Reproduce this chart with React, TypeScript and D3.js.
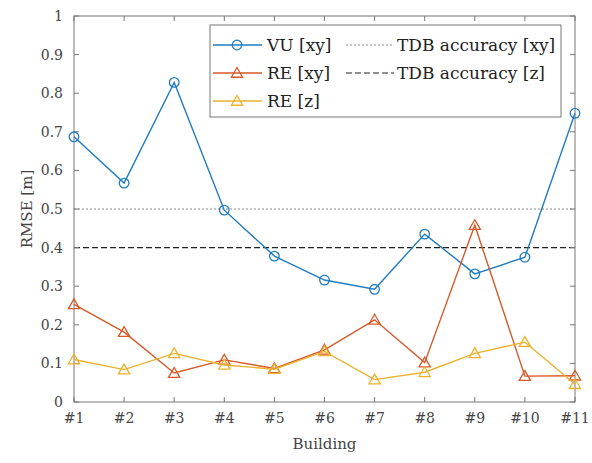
import React from "react"
import * as d3 from "d3"

const buildings = ["#1", "#2", "#3", "#4", "#5", "#6", "#7", "#8", "#9", "#10", "#11"]
const vuXy = [0.687, 0.567, 0.828, 0.497, 0.378, 0.316, 0.292, 0.435, 0.332, 0.375, 0.748]
const reXy = [0.253, 0.181, 0.075, 0.109, 0.087, 0.135, 0.213, 0.102, 0.458, 0.067, 0.068]
const reZ = [0.11, 0.084, 0.126, 0.096, 0.085, 0.131, 0.058, 0.077, 0.126, 0.155, 0.046]
const yTicks = [0, 0.1, 0.2, 0.3, 0.4, 0.5, 0.6, 0.7, 0.8, 0.9, 1]
const tdbXy = 0.5
const tdbZ = 0.4

const W = 592
const H = 463
const margin = { top: 16, right: 17, bottom: 61, left: 74 }
const font = "'DejaVu Serif', serif"

const series = [
  { name: "VU [xy]", values: vuXy, color: "#1f7cc0", marker: "circle" },
  { name: "RE [xy]", values: reXy, color: "#d65a2a", marker: "triangle" },
  { name: "RE [z]", values: reZ, color: "#ecb22e", marker: "triangle" },
]

const Marker = ({ type, x, y, color }) =>
  type === "circle" ? (
    <circle cx={x} cy={y} r={4.8} fill="none" stroke={color} strokeWidth={1.3} />
  ) : (
    <path
      d={d3.symbol(d3.symbolTriangle, 55)() || ""}
      transform={`translate(${x},${y + 1})`}
      fill="none"
      stroke={color}
      strokeWidth={1.3}
    />
  )

export default function App() {
  const x = d3
    .scalePoint()
    .domain(buildings)
    .range([margin.left, W - margin.right])

  const y = d3
    .scaleLinear()
    .domain([0, 1])
    .range([H - margin.bottom, margin.top])

  const line = d3
    .line<number>()
    .x((d, i) => x(buildings[i]) as number)
    .y(d => y(d))

  const x0 = margin.left
  const x1 = W - margin.right
  const y0 = H - margin.bottom
  const y1 = margin.top

  const lg = { x: 210, y: 25, w: 351, h: 92 }
  const rows = [45, 73, 101]

  return (
    <svg width={W} height={H} style={{ position: "absolute", left: 0, top: 0, background: "#fff" }}>
      {/* threshold lines */}
      <line x1={x0} x2={x1} y1={y(tdbXy)} y2={y(tdbXy)} stroke="#888" strokeWidth={1.2} strokeDasharray="2,2" />
      <line x1={x0} x2={x1} y1={y(tdbZ)} y2={y(tdbZ)} stroke="#222" strokeWidth={1.2} strokeDasharray="6,3" />

      {/* axes box + ticks */}
      <rect x={x0} y={y1} width={x1 - x0} height={y0 - y1} fill="none" stroke="#777" strokeWidth={1} />
      {yTicks.map(t => (
        <g key={t}>
          <line x1={x0} x2={x0 + 5} y1={y(t)} y2={y(t)} stroke="#777" />
          <line x1={x1} x2={x1 - 5} y1={y(t)} y2={y(t)} stroke="#777" />
          <text x={x0 - 11} y={y(t)} dy="0.35em" textAnchor="end" fontFamily={font} fontSize={14} fill="#444">
            {t}
          </text>
        </g>
      ))}
      {buildings.map(b => (
        <g key={b}>
          <line x1={x(b)} x2={x(b)} y1={y0} y2={y0 - 5} stroke="#777" />
          <line x1={x(b)} x2={x(b)} y1={y1} y2={y1 + 5} stroke="#777" />
          <text x={x(b)} y={y0 + 21} textAnchor="middle" fontFamily={font} fontSize={14} fill="#444">
            {b}
          </text>
        </g>
      ))}
      <text x={(x0 + x1) / 2} y={449} textAnchor="middle" fontFamily={font} fontSize={15} fill="#444">
        Building
      </text>
      <text
        transform={`translate(32,${(y0 + y1) / 2}) rotate(-90)`}
        textAnchor="middle"
        fontFamily={font}
        fontSize={15}
        fill="#444"
      >
        RMSE [m]
      </text>

      {/* series */}
      {series.map(s => (
        <g key={s.name}>
          <path d={line(s.values) || ""} fill="none" stroke={s.color} strokeWidth={1.4} />
          {s.values.map((v, i) => (
            <Marker key={i} type={s.marker} x={x(buildings[i])} y={y(v)} color={s.color} />
          ))}
        </g>
      ))}

      {/* legend */}
      <rect x={lg.x} y={lg.y} width={lg.w} height={lg.h} fill="#fff" stroke="#777" strokeWidth={1} />
      {series.map((s, i) => (
        <g key={s.name}>
          <line x1={213} x2={262} y1={rows[i]} y2={rows[i]} stroke={s.color} strokeWidth={1.4} />
          <Marker type={s.marker} x={237} y={rows[i]} color={s.color} />
          <text x={267} y={rows[i]} dy="0.35em" fontFamily={font} fontSize={17} fill="#222">
            {s.name}
          </text>
        </g>
      ))}
      <line x1={346} x2={394} y1={rows[0]} y2={rows[0]} stroke="#888" strokeWidth={1.2} strokeDasharray="2,2" />
      <text x={397} y={rows[0]} dy="0.35em" fontFamily={font} fontSize={17} fill="#222">
        TDB accuracy [xy]
      </text>
      <line x1={346} x2={394} y1={rows[1]} y2={rows[1]} stroke="#222" strokeWidth={1.2} strokeDasharray="6,3" />
      <text x={397} y={rows[1]} dy="0.35em" fontFamily={font} fontSize={17} fill="#222">
        TDB accuracy [z]
      </text>
    </svg>
  )
}
